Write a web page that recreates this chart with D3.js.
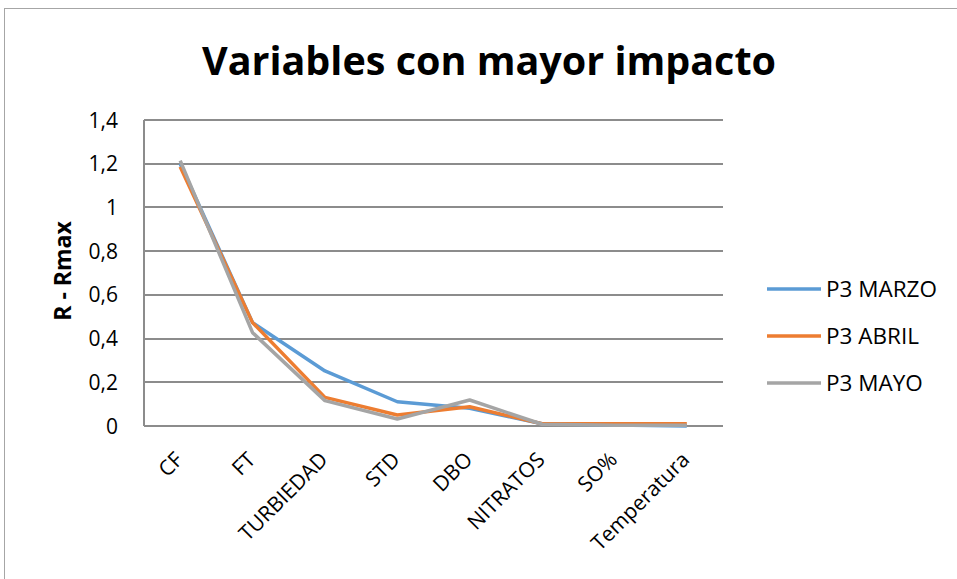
<!DOCTYPE html>
<meta charset="utf-8">
<head>
  <title>Variables con mayor impacto</title>
</head>
<style>
  body { margin: 0; background: #fff; }
  text { font-family: "Open Sans", sans-serif; fill: #000; }
  .grid line { stroke: #8c8c8c; stroke-width: 1.3px; shape-rendering: crispEdges; }
  .line { fill: none; stroke-width: 3.5px; stroke-linejoin: round; }
</style>
<body>
<script src="https://cdn.jsdelivr.net/npm/d3@7"></script>
<script>
// data
var categories = ["CF", "FT", "TURBIEDAD", "STD", "DBO", "NITRATOS", "SO%", "Temperatura"];
var marzo = [1.20, 0.473, 0.252, 0.111, 0.081, 0.010, 0.005, 0.000];
var abril = [1.186, 0.473, 0.131, 0.050, 0.088, 0.010, 0.010, 0.010];
var mayo  = [1.214, 0.427, 0.116, 0.032, 0.119, 0.008, 0.003, 0.004];
var seriesNames = ["P3 MARZO", "P3 ABRIL", "P3 MAYO"];
var colors = ["#5b9bd5", "#ed7d31", "#a5a5a5"];
var yTicks = [0, 0.2, 0.4, 0.6, 0.8, 1, 1.2, 1.4];

var series = [marzo, abril, mayo].map(function(v, i) {
  return { name: seriesNames[i], color: colors[i], values: v };
});

var W = 957, H = 579;
var plot = { left: 144, top: 120, right: 723, bottom: 426 };

var svg = d3.select("body").append("svg")
    .attr("width", W)
    .attr("height", H);

// outer chart border
svg.append("rect")
    .attr("x", 4.5).attr("y", 8.5)
    .attr("width", W).attr("height", H)
    .attr("fill", "#fff")
    .attr("stroke", "#a6a6a6");

var x = d3.scaleBand().domain(categories).range([plot.left, plot.right]);
var y = d3.scaleLinear().domain([0, 1.4]).range([plot.bottom, plot.top]);

// gridlines
svg.append("g").attr("class", "grid")
  .selectAll("line").data(yTicks).enter().append("line")
    .attr("x1", plot.left).attr("x2", plot.right)
    .attr("y1", function(d) { return Math.round(y(d)); })
    .attr("y2", function(d) { return Math.round(y(d)); });

// left axis line
svg.append("line")
    .attr("x1", plot.left).attr("x2", plot.left)
    .attr("y1", plot.top).attr("y2", plot.bottom)
    .attr("stroke", "#8c8c8c").attr("stroke-width", 1.3)
    .style("shape-rendering", "crispEdges");

// y tick labels
var fmt = function(d) { return String(d).replace(".", ","); };
svg.append("g").selectAll("text").data(yTicks).enter().append("text")
    .attr("x", 118)
    .attr("y", function(d) { return y(d); })
    .attr("dy", "0.36em")
    .attr("text-anchor", "end")
    .style("font-size", "21px")
    .text(fmt);

// x tick labels
svg.append("g").selectAll("text").data(categories).enter().append("text")
    .attr("transform", function(d) {
      return "translate(" + (x(d) + x.bandwidth() / 2 + 4) + "," + 461 + ") rotate(-45)";
    })
    .attr("text-anchor", "end")
    .style("font-size", "21px")
    .text(function(d) { return d; });

// lines
var line = d3.line()
    .x(function(d, i) { return x(categories[i]) + x.bandwidth() / 2; })
    .y(function(d) { return y(d); });

svg.selectAll(".line").data(series).enter().append("path")
    .attr("class", "line")
    .attr("stroke", function(d) { return d.color; })
    .attr("d", function(d) { return line(d.values); });

// title
svg.append("text")
    .attr("x", 489).attr("y", 75)
    .attr("text-anchor", "middle")
    .style("font-size", "39.5px")
    .style("font-weight", "bold")
    .text("Variables con mayor impacto");

// y axis title
svg.append("text")
    .attr("transform", "translate(71,271) rotate(-90)")
    .attr("text-anchor", "middle")
    .style("font-size", "23px")
    .style("font-weight", "bold")
    .text("R - Rmax");

// legend
var legend = svg.append("g").selectAll("g").data(series).enter().append("g")
    .attr("transform", function(d, i) { return "translate(767," + (289 + i * 47) + ")"; });
legend.append("line")
    .attr("x1", 0).attr("x2", 54)
    .attr("stroke", function(d) { return d.color; })
    .attr("stroke-width", 3.5);
legend.append("text")
    .attr("x", 59).attr("dy", "0.36em")
    .style("font-size", "22.5px")
    .text(function(d) { return d.name; });
</script>
</body>
